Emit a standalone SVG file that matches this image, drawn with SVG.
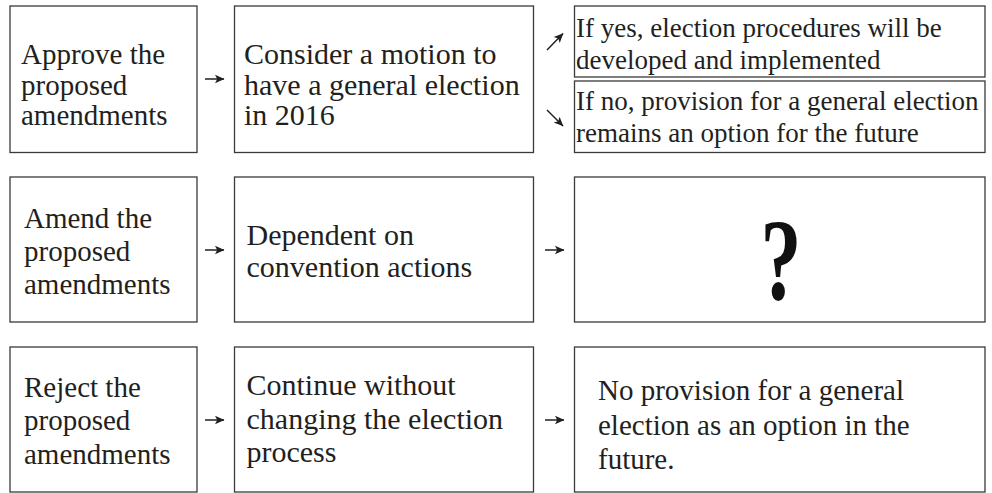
<svg xmlns="http://www.w3.org/2000/svg" width="992" height="493" viewBox="0 0 992 493">
<style>
  .box { fill: #ffffff; stroke: #3a3a3a; stroke-width: 1.3; }
  .t { font-family: "Liberation Serif", "Times New Roman", serif; fill: #231f20; font-size: 29px; }
  .t2 { font-family: "Liberation Serif", "Times New Roman", serif; fill: #231f20; font-size: 30px; }
  .ts { font-family: "Liberation Serif", "Times New Roman", serif; fill: #231f20; font-size: 27px; }
  .q { font-family: "Liberation Serif", "Times New Roman", serif; fill: #111111; font-size: 117px; font-weight: bold; }
  .arrow { stroke: #231f20; stroke-width: 1.5; fill: none; marker-end: url(#head); }
</style>
<defs>
  <marker id="head" markerUnits="userSpaceOnUse" markerWidth="11" markerHeight="10" refX="9" refY="5" orient="auto">
    <path d="M0,0.8 L9.5,5 L0,9.2 L2.2,5 z" fill="#231f20"/>
  </marker>
</defs>
<rect width="992" height="493" fill="#ffffff"/>

<g id="approve">
  <rect class="box" x="10" y="6" width="187" height="146.5"/>
  <text class="t" x="21" y="64">Approve the</text>
  <text class="t" x="21" y="94.5">proposed</text>
  <text class="t" x="21" y="125">amendments</text>
</g>
<g id="consider">
  <rect class="box" x="234.5" y="6" width="299" height="146.5"/>
  <text class="t2" x="244" y="64">Consider a motion to</text>
  <text class="t2" x="244" y="94.5">have a general election</text>
  <text class="t2" x="244" y="125">in 2016</text>
</g>
<g id="if-yes">
  <rect class="box" x="574.5" y="6" width="410.5" height="71"/>
  <text class="ts" x="576" y="36.5">If yes, election procedures will be</text>
  <text class="ts" x="576" y="68.5">developed and implemented</text>
</g>
<g id="if-no">
  <rect class="box" x="574.5" y="81" width="410.5" height="71.5"/>
  <text class="ts" x="576" y="109.5">If no, provision for a general election</text>
  <text class="ts" x="576" y="141.5">remains an option for the future</text>
</g>

<g id="amend">
  <rect class="box" x="10" y="177" width="187" height="145"/>
  <text class="t" x="24" y="227.5">Amend the</text>
  <text class="t" x="24" y="260.5">proposed</text>
  <text class="t" x="24" y="294">amendments</text>
</g>
<g id="dependent">
  <rect class="box" x="234.5" y="177" width="299" height="145"/>
  <text class="t2" x="246.5" y="245">Dependent on</text>
  <text class="t2" x="246.5" y="277">convention actions</text>
</g>
<g id="unknown">
  <rect class="box" x="574.5" y="177" width="410.5" height="145"/>
  <text class="q" text-anchor="middle" transform="translate(781,299) scale(0.7,1)">?</text>
</g>

<g id="reject">
  <rect class="box" x="10" y="347" width="187" height="145"/>
  <text class="t" x="24" y="397">Reject the</text>
  <text class="t" x="24" y="430">proposed</text>
  <text class="t" x="24" y="464">amendments</text>
</g>
<g id="continue">
  <rect class="box" x="234.5" y="347" width="299" height="145"/>
  <text class="t2" x="246.5" y="395">Continue without</text>
  <text class="t2" x="246.5" y="428.5">changing the election</text>
  <text class="t2" x="246.5" y="462">process</text>
</g>
<g id="no-provision">
  <rect class="box" x="574.5" y="347" width="410.5" height="145"/>
  <text class="t" x="598" y="399.5">No provision for a general</text>
  <text class="t" x="598" y="435">election as an option in the</text>
  <text class="t" x="598" y="468.5">future.</text>
</g>

<g id="connectors">
  <line class="arrow" x1="205" y1="79" x2="224" y2="79"/>
  <line class="arrow" x1="547" y1="50" x2="563" y2="33.5"/>
  <line class="arrow" x1="547" y1="110" x2="563" y2="126"/>
  <line class="arrow" x1="205" y1="250" x2="224" y2="250"/>
  <line class="arrow" x1="545" y1="250" x2="564" y2="250"/>
  <line class="arrow" x1="205" y1="420" x2="224" y2="420"/>
  <line class="arrow" x1="545" y1="420" x2="564" y2="420"/>
</g>
</svg>
